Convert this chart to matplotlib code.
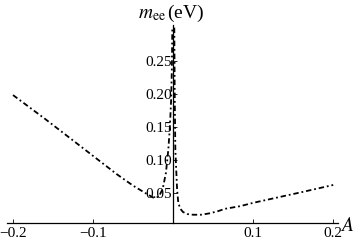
import matplotlib
matplotlib.use("Agg")
import matplotlib.pyplot as plt

# Data
xL = [-0.2, -0.16, -0.13, -0.1, -0.07, -0.05, -0.035, -0.025, -0.018, -0.013,
      -0.009, -0.006, -0.004, -0.0025, -0.0015, -0.001]
yL = [0.198, 0.162, 0.134, 0.106, 0.078, 0.061, 0.050, 0.043, 0.044, 0.056,
      0.080, 0.115, 0.150, 0.19, 0.24, 0.30]

xR = [0.0015, 0.002, 0.0028, 0.005, 0.0065, 0.009, 0.0125, 0.018, 0.025, 0.035,
      0.045, 0.055, 0.065, 0.084, 0.1, 0.13, 0.16, 0.2]
yR = [0.30, 0.20, 0.115, 0.055, 0.035, 0.026, 0.021, 0.018, 0.017, 0.017,
      0.019, 0.022, 0.026, 0.030, 0.035, 0.043, 0.051, 0.062]

xticks = [-0.2, -0.1, 0.1, 0.2]
xticklabels = ["\u22120.2", "\u22120.1", "0.1", "0.2"]
yticks = [0.05, 0.10, 0.15, 0.20, 0.25]
yticklabels = ["0.05", "0.10", "0.15", "0.20", "0.25"]

plt.rcParams['font.family'] = ['Liberation Serif', 'DejaVu Serif']
plt.rcParams['mathtext.fontset'] = 'stix'

fig = plt.figure(figsize=(3.61, 2.47), dpi=100)
ax = fig.add_axes([7/361, 24/247, (338-7)/361, (223-25)/247])
ax.set_xlim(-0.2075, 0.206)
ax.set_ylim(0.0045, 0.304)

for xs, ys in [(xL, yL), (xR, yR)]:
    ax.plot(xs, ys, color='black', lw=1.3, linestyle=(0, (3, 1.6, 1, 1.6)))

for s in ['top', 'right']:
    ax.spines[s].set_visible(False)
ax.spines['left'].set_position(('data', 0))
ax.spines['bottom'].set_position(('data', 0.0045))
ax.spines['left'].set_linewidth(0.9)
ax.spines['bottom'].set_linewidth(0.9)

ax.set_xticks(xticks)
ax.set_xticklabels(xticklabels)
ax.set_yticks(yticks)
ax.set_yticklabels(yticklabels)
ax.tick_params(axis='both', direction='in', length=3, width=0.6, labelsize=11, pad=1)
ax.tick_params(axis='x', pad=3)
ax.patch.set_alpha(0)

fig.text(347/361, 1 - 226/247, r'$A$', fontsize=14, ha='center', va='center')
fig.text(171/361, 1 - 13/247, r'$m_{\mathrm{ee}}\,$(eV)', fontsize=14, ha='center', va='center')

fig.savefig('out.png', dpi=100)
